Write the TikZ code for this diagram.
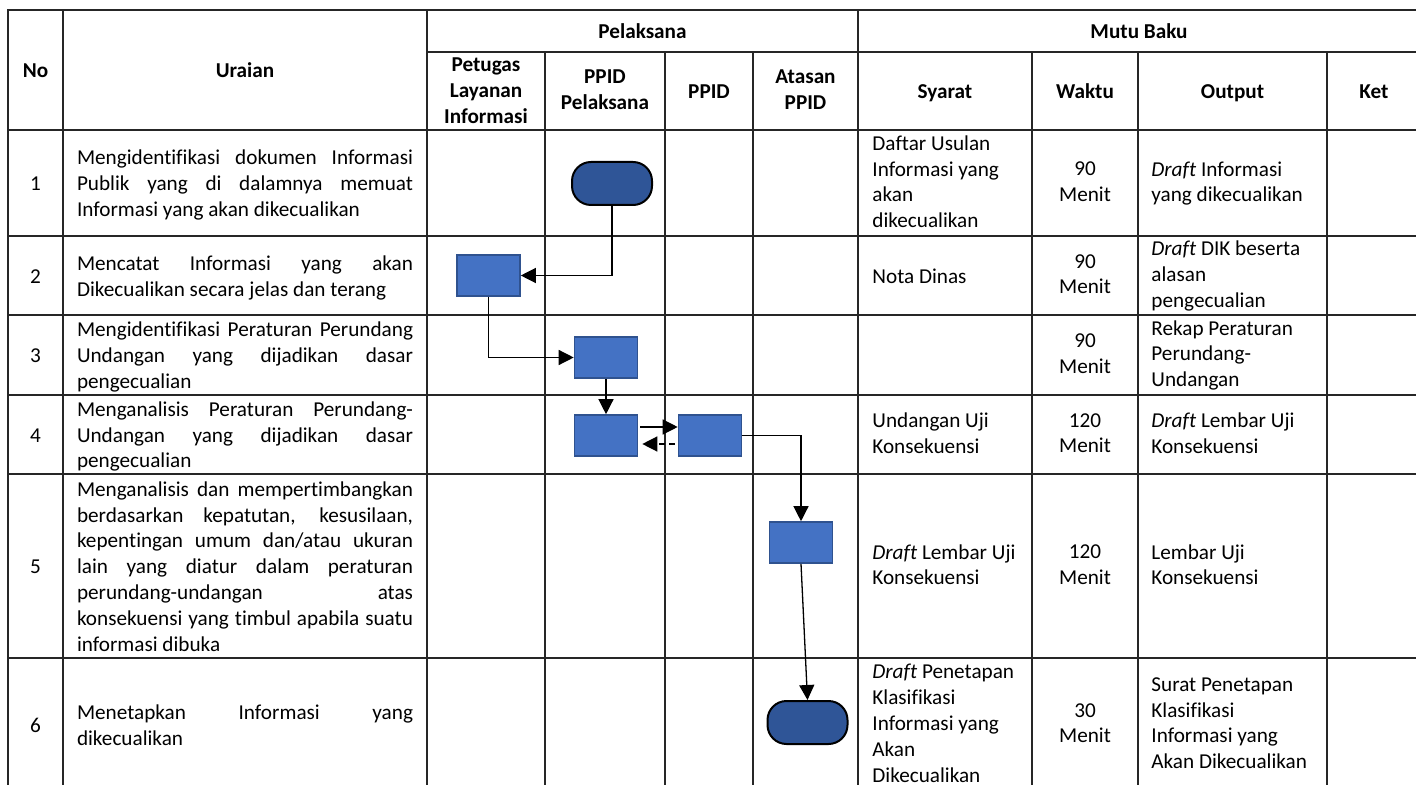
\documentclass[tikz,border=0pt]{standalone}
\usepackage{fontspec}
\setmainfont[Ligatures=NoCommon]{Carlito}
\usetikzlibrary{arrows.meta}
\usepackage{xcolor}
\definecolor{proses}{HTML}{4472C4}
\definecolor{prosesgaris}{HTML}{2F528F}
\definecolor{terminal}{HTML}{2F5597}
\hyphenpenalty=10000
\tolerance=9999

\begin{document}
\begin{tikzpicture}[x=0.5pt, y=-0.5pt,
	garis/.style={line width=0.7pt, black!85},
	teks/.style={inner sep=0pt, yshift=-1.25pt, font=\fontsize{10.6}{12.9}\selectfont, execute at begin node=\strut, execute at end node=\strut},
	kepala/.style={teks, font=\fontsize{10.6}{13}\selectfont\bfseries, align=center},
	uraian/.style={teks, text width=168pt, align=justify},
	isian/.style={teks, anchor=west, align=left},
	waktu/.style={teks, align=center},
	kotak/.style={draw=prosesgaris, fill=proses, line width=0.8pt, minimum width=31.5pt, minimum height=20.5pt, inner sep=0pt},
	ujung/.style={draw=black, fill=terminal, line width=1pt, rounded corners=9.5pt, minimum width=40pt, minimum height=21.5pt, inner sep=0pt},
	alur/.style={line width=0.65pt, -{Triangle[length=7.5pt, width=7.5pt]}}] % {{{
		\useasboundingbox (0,0) rectangle (1416,785);
		% Tabel   {{{
		\draw[garis] (8,10) rectangle (1420,791);
		\draw[garis] (427,52) -- (1420,52);
		\draw[garis] (8,130) -- (1420,130);
		\draw[garis] (8,236) -- (1420,236);
		\draw[garis] (8,315) -- (1420,315);
		\draw[garis] (8,395) -- (1420,395);
		\draw[garis] (8,474) -- (1420,474);
		\draw[garis] (8,658) -- (1420,658);
		\draw[garis] (63,10) -- (63,791);
		\draw[garis] (427,10) -- (427,791);
		\draw[garis] (858,10) -- (858,791);
		\draw[garis] (545,52) -- (545,791);
		\draw[garis] (665,52) -- (665,791);
		\draw[garis] (753,52) -- (753,791);
		\draw[garis] (1032,52) -- (1032,791);
		\draw[garis] (1138,52) -- (1138,791);
		\draw[garis] (1327,52) -- (1327,791);
		% }}}
		% Kepala tabel   {{{
		\node[kepala] (hno) at (35.5,70) {No};
		\node[kepala] (hur) at (245,70) {Uraian};
		\node[kepala] (hpel) at (642.5,31) {Pelaksana};
		\node[kepala] (hmutu) at (1139,31) {Mutu Baku};
		\node[kepala] (hpet) at (486,92) {Petugas\\Layanan\\Informasi};
		\node[kepala] (hppl) at (605,91) {PPID\\Pelaksana};
		\node[kepala] (hppid) at (709,91) {PPID};
		\node[kepala] (hat) at (805.5,91) {Atasan\\PPID};
		\node[kepala] (hsy) at (945,91) {Syarat};
		\node[kepala] (hwk) at (1085,91) {Waktu};
		\node[kepala] (hout) at (1232.5,91) {Output};
		\node[kepala] (hket) at (1374,91) {Ket};
		% }}}
		% Nomor dan uraian   {{{
		\node[teks] (n1) at (35.5,183) {1};
		\node[teks] (n2) at (35.5,275.5) {2};
		\node[teks] (n3) at (35.5,355) {3};
		\node[teks] (n4) at (35.5,434.5) {4};
		\node[teks] (n5) at (35.5,566) {5};
		\node[teks] (n6) at (35.5,724.5) {6};
		\node[uraian] (u1) at (245,183) {Mengidentifikasi dokumen Informasi\linebreak Publik yang di dalamnya memuat\linebreak Informasi yang akan dikecualikan};
		\node[uraian] (u2) at (245,275.5) {Mencatat Informasi yang akan\linebreak Dikecualikan secara jelas dan terang};
		\node[uraian] (u3) at (245,355) {Mengidentifikasi Peraturan Perundang\linebreak Undangan yang dijadikan dasar\linebreak pengecualian};
		\node[uraian] (u4) at (245,434.5) {Menganalisis Peraturan Perundang-\linebreak Undangan yang dijadikan dasar\linebreak pengecualian};
		\node[uraian] (u5) at (245,566) {Menganalisis dan mempertimbangkan\linebreak berdasarkan kepatutan, kesusilaan,\linebreak kepentingan umum dan/atau ukuran\linebreak lain yang diatur dalam peraturan\linebreak perundang-undangan atas\linebreak konsekuensi yang timbul apabila suatu\linebreak informasi dibuka};
		\node[uraian] (u6) at (245,724.5) {Menetapkan Informasi yang\linebreak dikecualikan};
		% }}}
		% Mutu baku   {{{
		\node[isian] (s1) at (872,183) {Daftar Usulan\\Informasi yang\\akan\\dikecualikan};
		\node[isian] (s2) at (872,275.5) {Nota Dinas};
		\node[isian] (s4) at (872,434.5) {Undangan Uji\\Konsekuensi};
		\node[isian] (s5) at (872,566) {\textit{Draft} Lembar Uji\\Konsekuensi};
		\node[isian] (s6) at (872,724.5) {\textit{Draft} Penetapan\\Klasifikasi\\Informasi yang\\Akan\\Dikecualikan};
		\node[waktu] (w1) at (1085,183) {90\\Menit};
		\node[waktu] (w2) at (1085,275.5) {90\\Menit};
		\node[waktu] (w3) at (1085,355) {90\\Menit};
		\node[waktu] (w4) at (1085,434.5) {120\\Menit};
		\node[waktu] (w5) at (1085,566) {120\\Menit};
		\node[waktu] (w6) at (1085,724.5) {30\\Menit};
		\node[isian] (o1) at (1151,183) {\textit{Draft} Informasi\\yang dikecualikan};
		\node[isian] (o2) at (1151,275.5) {\textit{Draft} DIK beserta\\alasan\\pengecualian};
		\node[isian] (o3) at (1151,355) {Rekap Peraturan\\Perundang-\\Undangan};
		\node[isian] (o4) at (1151,434.5) {\textit{Draft} Lembar Uji\\Konsekuensi};
		\node[isian] (o5) at (1151,566) {Lembar Uji\\Konsekuensi};
		\node[isian] (o6) at (1151,724.5) {Surat Penetapan\\Klasifikasi\\Informasi yang\\Akan Dikecualikan};
		% }}}
		% Bagan alir   {{{
		\node[ujung] (mulai) at (612,183.5) {};
		\node[kotak] (catat) at (488.5,275.5) {};
		\node[kotak] (identifikasi) at (606,357.5) {};
		\node[kotak] (analisis) at (606,435.5) {};
		\node[kotak] (ujikons) at (710,435.5) {};
		\node[kotak] (timbang) at (801,542.5) {};
		\node[ujung] (selesai) at (807.5,722.5) {};
		\draw[alur] (mulai.south) |- (catat.east);
		\draw[alur] (catat.south) |- (identifikasi.west);
		\draw[alur] (identifikasi.south) -- (analisis.north);
		\draw[alur, shorten <=1pt] ([yshift=4.25pt]analisis.east) -- ([yshift=4.25pt]ujikons.west);
		\draw[alur, dash pattern=on 3pt off 2pt, shorten <=1.5pt, shorten >=2pt] ([yshift=-4.25pt]ujikons.west) -- ([yshift=-4.25pt]analisis.east);
		\draw[alur] (ujikons.east) -| (timbang.north);
		\draw[alur] (timbang.south) -- (selesai.north);
		% }}}
\end{tikzpicture} % }}}
\end{document}
